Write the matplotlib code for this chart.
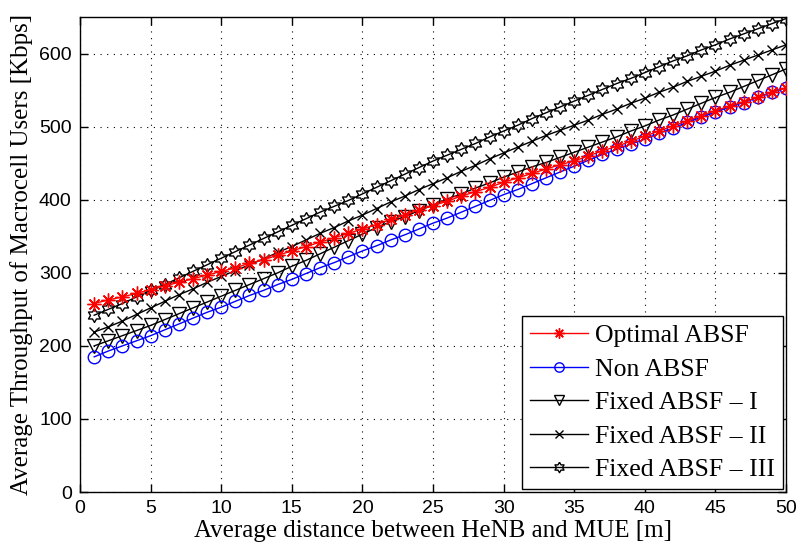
import numpy as np
import matplotlib
matplotlib.use("Agg")
import matplotlib.pyplot as plt

distance = list(range(1, 51))

optimal_absf = [258, 263, 267, 272, 277, 282, 287, 292, 297, 302,
                307, 313, 318, 324, 330, 336, 342, 348, 354, 360,
                366, 373, 379, 386, 392, 398, 405, 411, 417, 424,
                430, 436, 442, 448, 453, 460, 467, 473, 480, 487,
                494, 501, 508, 515, 522, 528, 534, 540, 547, 553]

non_absf = [185, 193, 200, 207, 214, 222, 230, 238, 246, 253,
            261, 269, 276, 284, 291, 299, 307, 314, 322, 330,
            337, 345, 352, 360, 368, 375, 383, 391, 399, 407,
            414, 422, 430, 438, 446, 454, 462, 469, 476, 483,
            491, 498, 506, 513, 520, 527, 533, 540, 547, 553]

fixed_absf_1 = [200, 207, 214, 221, 228, 236, 244, 252, 260, 268,
                276, 284, 292, 300, 309, 317, 326, 335, 344, 353,
                362, 370, 377, 385, 393, 401, 408, 416, 423, 431,
                438, 445, 451, 458, 465, 472, 479, 486, 494, 501,
                509, 516, 524, 532, 540, 547, 555, 563, 571, 579]

fixed_absf_2 = [219, 226, 234, 243, 252, 261, 270, 278, 287, 295,
                303, 311, 319, 328, 336, 345, 354, 362, 371, 379,
                388, 397, 405, 414, 422, 430, 439, 447, 456, 464,
                472, 480, 488, 495, 502, 509, 517, 524, 532, 539,
                547, 554, 562, 569, 576, 584, 591, 598, 605, 612]

fixed_absf_3 = [242, 250, 258, 267, 276, 284, 293, 302, 311, 320,
                329, 338, 347, 356, 365, 374, 383, 391, 399, 408,
                417, 426, 435, 444, 453, 461, 469, 477, 486, 494,
                502, 511, 519, 527, 535, 543, 551, 559, 566, 574,
                582, 590, 597, 605, 612, 620, 627, 634, 641, 648]

labels = ["Optimal ABSF", "Non ABSF", "Fixed ABSF \u2013 I",
          "Fixed ABSF \u2013 II", "Fixed ABSF \u2013 III"]
x_ticks = [0, 5, 10, 15, 20, 25, 30, 35, 40, 45, 50]
y_ticks = [0, 100, 200, 300, 400, 500, 600]

# hexagram (star of David) marker
ang = np.deg2rad(np.arange(12) * 30 + 90)
rad = np.where(np.arange(12) % 2 == 0, 1.0, 1.0 / np.sqrt(3))
hexagram = list(zip(rad * np.cos(ang), rad * np.sin(ang)))
hexagram.append(hexagram[0])

fig = plt.figure(figsize=(7.98, 5.51), dpi=100)
ax = fig.add_axes([0.1003, 0.107, 0.8847, 0.862])

serif = "Liberation Serif"
sans = "Liberation Sans"

ax.plot(distance, optimal_absf, color="red", lw=1.0, marker=(8, 2, 0),
        markersize=10, markeredgewidth=1.0, label=labels[0], zorder=6)
ax.plot(distance, non_absf, color="blue", lw=1.0, marker="o",
        markersize=9, markerfacecolor="none", markeredgewidth=1.0,
        label=labels[1], zorder=5)
ax.plot(distance, fixed_absf_1, color="black", lw=1.0, marker="v",
        markersize=10, markerfacecolor="none", markeredgewidth=1.0,
        label=labels[2], zorder=4)
ax.plot(distance, fixed_absf_2, color="black", lw=1.0, marker="x",
        markersize=7, markeredgewidth=1.0, label=labels[3], zorder=4)
ax.plot(distance, fixed_absf_3, color="black", lw=1.0, marker=hexagram,
        markersize=10, markerfacecolor="none", markeredgewidth=1.0,
        label=labels[4], zorder=4)

ax.set_xlim(0, 50)
ax.set_ylim(0, 650)
ax.set_xticks(x_ticks)
ax.set_yticks(y_ticks)
ax.grid(True, color="black", linestyle=(0, (1, 5)), linewidth=0.8)
ax.tick_params(direction="in", length=6, width=1, top=True, right=True,
               labelsize=14, pad=6)
for lab in ax.get_xticklabels() + ax.get_yticklabels():
    lab.set_fontfamily(sans)
for sp in ax.spines.values():
    sp.set_linewidth(1.0)

ax.set_xlabel("Average distance between HeNB and MUE [m]",
              fontfamily=serif, fontsize=18, labelpad=2)
ax.set_ylabel("Average Throughput of Macrocell Users [Kbps]",
              fontfamily=serif, fontsize=18, labelpad=4)

leg = ax.legend(loc="lower right", prop={"family": serif, "size": 18.5},
                frameon=True, fancybox=False, edgecolor="black",
                framealpha=1.0, handlelength=2.25, handletextpad=0.3,
                labelspacing=0.41, borderpad=0.3, borderaxespad=0.12,
                markerscale=0.75)
leg.get_frame().set_linewidth(1.0)

fig.savefig("out.png", dpi=100)
